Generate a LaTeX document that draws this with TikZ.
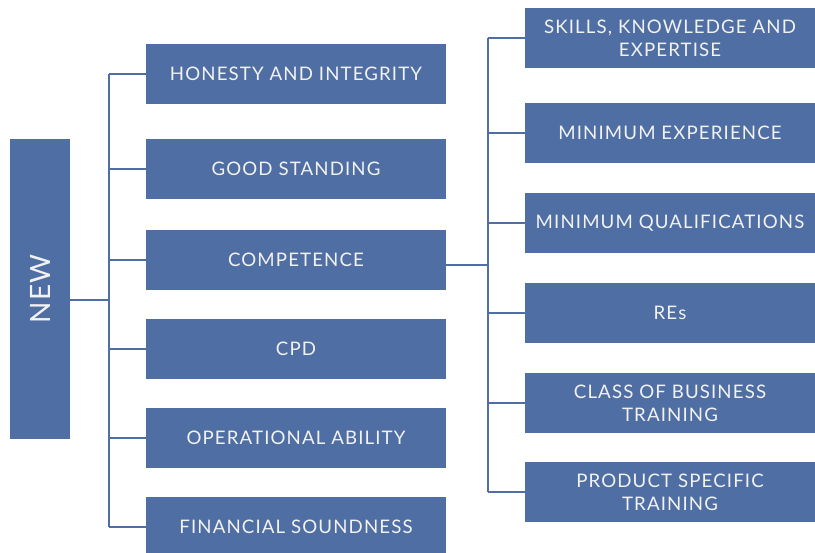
\documentclass[tikz,border=0pt]{standalone}
\usepackage{fontspec}
\setmainfont{Lato}[LetterSpace=6]
\definecolor{boxblue}{HTML}{4F6EA3}
\begin{document}
\begin{tikzpicture}[
    x=0.75pt, y=-0.75pt,
    box/.style={fill=boxblue, text=white!95!black, inner sep=0pt,
      font=\fontsize{14}{17}\selectfont, align=center},
    lbox/.style={box, minimum width=225pt, minimum height=45pt},
    rbox/.style={box, minimum width=217.5pt, minimum height=45pt},
    wire/.style={draw=boxblue, line width=1.5pt}
    ]
	\useasboundingbox (0,0) rectangle (815,553);
	\node [box, rotate=90, minimum width=225pt, minimum height=45pt,
	  font=\fontsize{21}{25}\selectfont] (new) at (40,289) {NEW};
	% first level
	\node [lbox] (honesty) at (296,74) {HONESTY AND INTEGRITY};
	\node [lbox] (standing) at (296,169) {GOOD STANDING};
	\node [lbox] (compet) at (296,260) {COMPETENCE};
	\node [lbox] (cpd) at (296,349) {CPD};
	\node [lbox] (oper) at (296,438) {OPERATIONAL ABILITY};
	\node [lbox] (financ) at (296,527) {FINANCIAL SOUNDNESS};
	% second level, under competence
	\node [rbox] (skills) at (670,38) {SKILLS, KNOWLEDGE AND\\EXPERTISE};
	\node [rbox] (minexp) at (670,133) {MINIMUM EXPERIENCE};
	\node [rbox] (minqual) at (670,223) {MINIMUM QUALIFICATIONS};
	\node [rbox] (res) at (670,313) {REs};
	\node [rbox] (classb) at (670,403) {CLASS OF BUSINESS\\TRAINING};
	\node [rbox] (product) at (670,492) {PRODUCT SPECIFIC\\TRAINING};
	\coordinate (lbus) at (109,300);
	\coordinate (rbus) at (488,265);
	\draw [wire] (new.south |- lbus) -- (lbus);
	\draw [wire] (lbus |- honesty.west) -- (lbus |- financ.west);
	\foreach \n in {honesty,standing,compet,cpd,oper,financ}
		\draw [wire] (lbus |- \n.west) -- (\n.west);
	\draw [wire] (compet.east |- rbus) -- (rbus);
	\draw [wire] (rbus |- skills.west) -- (rbus |- product.west);
	\foreach \n in {skills,minexp,minqual,res,classb,product}
		\draw [wire] (rbus |- \n.west) -- (\n.west);
\end{tikzpicture}
\end{document}
